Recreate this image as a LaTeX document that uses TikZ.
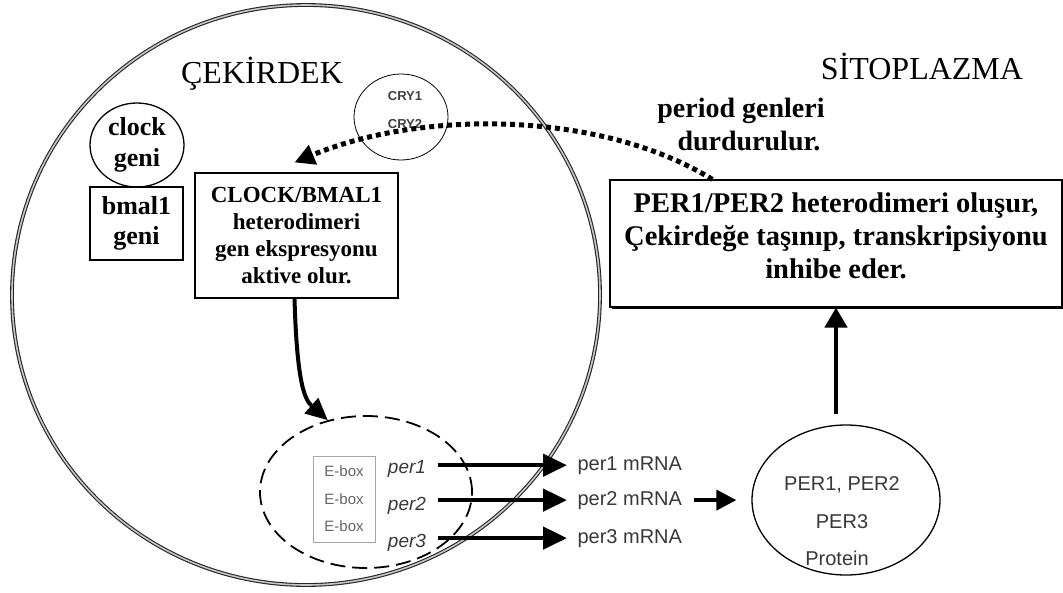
\documentclass[tikz,border=0pt]{standalone}
\usepackage{fontspec}
\setmainfont{Liberation Serif}
\setsansfont{Liberation Sans}
\usetikzlibrary{arrows.meta,shapes.geometric,shadows}
\newcommand{\fs}[2]{\fontsize{#1}{#2}\selectfont}
\begin{document}
\begin{tikzpicture}[x=1pt,y=-1pt,
  serifb/.style={font=\bfseries\fs{#1}{#1}},
  sanst/.style={font=\sffamily\fs{#1}{#1},text=black!78},
  fatarrow/.style={line width=4.5pt,-{Triangle[length=24pt,width=22pt]}},
  dotarrow/.style={line width=5pt,dash pattern=on 5pt off 4pt,-{Triangle[length=20pt,width=20pt]}},
  plainbox/.style={draw,line width=1.1pt,inner sep=0pt,fill=white}
]
\useasboundingbox (0,0) rectangle (1063,592);
\fill[white] (0,0) rectangle (1063,592);

% nucleus
\node[ellipse,draw=black!85,line width=1.1pt,double=gray!45,double distance=1.6pt,
      minimum width=588pt,minimum height=580pt,inner sep=0pt] (nucleus) at (306,295) {};

% titles
\node[anchor=base,font=\fs{32}{32}] (cekirdek) at (262,83) {ÇEKİRDEK};
\node[anchor=base,font=\fs{32}{32}] (sito) at (922,79) {SİTOPLAZMA};

% clock / bmal1
\node[ellipse,draw,line width=1.3pt,minimum width=94pt,minimum height=84pt,inner sep=0pt,
      align=center,font=\bfseries\fs{26}{31}] (clockc) at (137,145) {clock\\geni};
\node[plainbox,minimum width=93pt,minimum height=73pt,align=center,
      font=\bfseries\fs{26}{30}] (bmal) at (136.5,223.5) {bmal1\\geni};

% CRY
\node[ellipse,draw,line width=0.8pt,minimum width=94pt,minimum height=86pt,inner sep=0pt] (cry) at (401,117) {};
\node[anchor=base,font=\sffamily\bfseries\fs{13}{13},text=black!75] (cry1) at (405,100) {CRY1};
\node[anchor=base,font=\sffamily\bfseries\fs{13}{13},text=black!75] (cry2) at (405,128) {CRY2};

% CLOCK/BMAL1 box
\node[plainbox,minimum width=203pt,minimum height=125pt,align=center,
      font=\bfseries\fs{23}{27}] (clockbox) at (296.5,235.5)
      {CLOCK/BMAL1\\heterodimeri\\gen ekspresyonu\\aktive olur.};

% PER box
\node[plainbox,minimum width=452pt,minimum height=127pt,
      drop shadow={shadow xshift=1.5pt,shadow yshift=-1.5pt,fill=black,opacity=1}] (perbox) at (836,243.5) {};
\node[anchor=north,inner sep=0pt,align=center,font=\bfseries\fs{28.5}{33}] (pertext) at (836,193)
      {PER1/PER2 heterodimeri oluşur,\\Çekirdeğe taşınıp, transkripsiyonu\\inhibe eder.};

% period genleri
\node[anchor=base,font=\bfseries\fs{28}{28}] (period1) at (741,117) {period genleri};
\node[anchor=base,font=\bfseries\fs{28}{28}] (period2) at (749,150) {durdurulur.};

% dashed promoter ellipse
\node[ellipse,draw,line width=1.8pt,dash pattern=on 15pt off 7pt,
      minimum width=212pt,minimum height=152pt,inner sep=0pt] (dell) at (366,492) {};
\node[draw=gray!70,line width=0.8pt,minimum width=62pt,minimum height=86pt,inner sep=0pt,
      align=center,font=\sffamily\fs{15}{27.5},text=black!60] (ebox) at (344,499) {E-box\\E-box\\E-box};

% per genes
\node[anchor=base,font=\sffamily\itshape\fs{19}{19},text=black!78] (p1) at (407,473) {per1};
\node[anchor=base,font=\sffamily\itshape\fs{19}{19},text=black!78] (p2) at (407,510) {per2};
\node[anchor=base,font=\sffamily\itshape\fs{19}{19},text=black!78] (p3) at (407,547) {per3};

% mRNA labels
\node[anchor=base west,sanst=20] (m1) at (574,470) {per1 mRNA};
\node[anchor=base west,sanst=20] (m2) at (574,505) {per2 mRNA};
\node[anchor=base west,sanst=20] (m3) at (574,543) {per3 mRNA};

% protein ellipse
\node[ellipse,draw,line width=1.3pt,minimum width=188pt,minimum height=150pt,inner sep=0pt] (prot) at (846,500) {};
\node[anchor=base,sanst=20] (pt1) at (842,490) {PER1, PER2};
\node[anchor=base,sanst=20] (pt2) at (842,528) {PER3};
\node[anchor=base,sanst=20] (pt3) at (837,565) {Protein};

% arrows
\draw[fatarrow,shorten <=8pt,shorten >=7pt] (p1.east |- m1.west) -- (m1.west);
\draw[fatarrow,shorten <=8pt,shorten >=7pt] (p2.east |- m2.west) -- (m2.west);
\draw[fatarrow,shorten <=8pt,shorten >=7pt] (p3.east |- m3.west) -- (m3.west);
\draw[line width=4pt,-{Triangle[length=20pt,width=20pt]},shorten <=8pt,shorten >=15pt]
      (m2.east) -- (m2.east -| prot.west);
\draw[line width=4.5pt,-{Triangle[length=20pt,width=22pt]},shorten <=10pt]
      (perbox.south |- prot.north) -- (perbox.south);
\draw[line width=4pt,-{Triangle[length=22pt,width=20pt]}]
      ([xshift=-2pt]clockbox.south) .. controls (297,385) and (305,400) .. (dell.118);
\draw[dotarrow] ([xshift=103pt]perbox.north west) .. controls (600,110) and (420,110) .. ([yshift=10pt,xshift=-2pt]clockbox.north);
\end{tikzpicture}
\end{document}
